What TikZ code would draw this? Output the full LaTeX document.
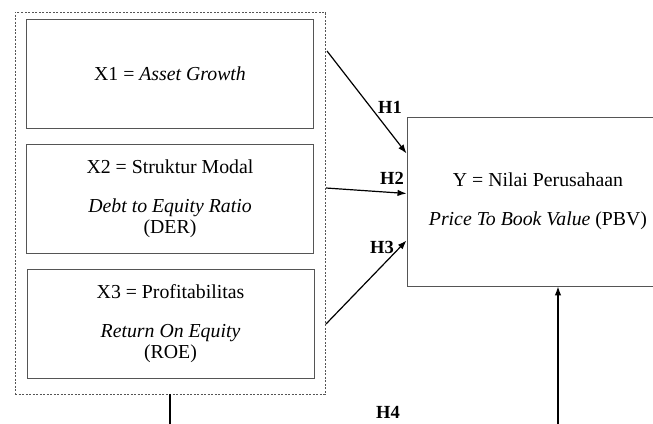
\documentclass[tikz,border=0pt]{standalone}
\usepackage{fontspec}
\setmainfont{Liberation Serif}
\usetikzlibrary{arrows, arrows.meta}
\definecolor{boxgray}{HTML}{555555}

\begin{document}
\begin{tikzpicture}[x=1pt, y=-1pt]
\tikzstyle{varbox} = [rectangle, minimum width=287pt, minimum height=109pt, text centered, align=center, draw=boxgray, line width=0.9pt, font=\fontsize{19.8}{21}\selectfont]
\tikzstyle{hyp} = [font=\bfseries\fontsize{18.5}{20}\selectfont, inner sep=0pt]
\tikzstyle{link} = [-{Latex[length=9pt,width=6.5pt]}, line width=1.2pt, black]

\useasboundingbox (0,0) rectangle (653,423);

\node (group) [rectangle, draw=boxgray, dash pattern=on 2pt off 1.5pt, line width=0.7pt, minimum width=310pt, minimum height=382pt] at (170,203) {};
\node (growth) [varbox] at (170,73.5) {X1 = \textit{Asset Growth}};
\node (modal) [varbox] at (170,199) {X2 = Struktur Modal\\[18pt]\textit{Debt to Equity Ratio}\\(DER)};
\node (profit) [varbox] at (170.5,323.5) {X3 = Profitabilitas\\[18pt]\textit{Return On Equity}\\(ROE)};
\node (value) [varbox, minimum width=262pt, minimum height=169pt] at (538,201.5) {Y = Nilai Perusahaan\\[18pt]\textit{Price To Book Value} (PBV)};

\coordinate (h1s) at (327,51);
\coordinate (h2s) at (326,188);
\coordinate (h3s) at (326,324);

\draw[link] (h1s) -- ([yshift=48pt]value.west);
\draw[link] (h2s) -- ([yshift=8pt]value.west);
\draw[link] (h3s) -- ([yshift=-39pt]value.west);
\draw[link] (group.south) -- ++(0,40) -| ([xshift=20pt]value.south);

\node (h1) [hyp] at (390,107) {H1};
\node (h2) [hyp] at (392,178) {H2};
\node (h3) [hyp] at (382,247) {H3};
\node (h4) [hyp] at (388,412) {H4};

\end{tikzpicture}
\end{document}
